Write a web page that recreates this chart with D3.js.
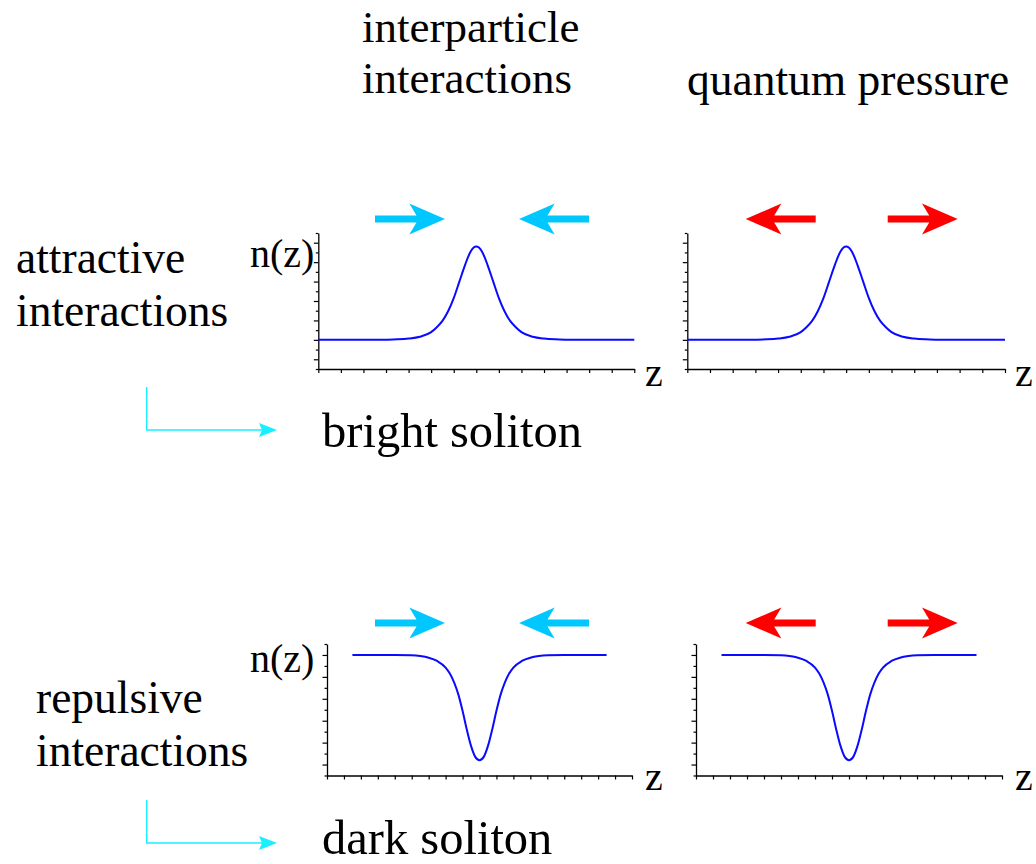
<!DOCTYPE html>
<html>
<head>
<meta charset="utf-8">
<script src="https://cdn.jsdelivr.net/npm/d3@7"></script>
<style>
  body { margin: 0; background: #fff; }
  svg { display: block; }
  text { font-family: "Liberation Serif", "Times New Roman", serif; fill: #000; }
</style>
</head>
<body>
<div id="chart"></div>
<script>
// density profiles
const brightZ = [-7, -5, -4, -3.5, -3, -2.5, -2, -1.75, -1.5, -1.25, -1, -0.75, -0.5, -0.25, 0,
  0.25, 0.5, 0.75, 1, 1.25, 1.5, 1.75, 2, 2.5, 3, 3.5, 4, 5, 7];
const brightN = [3, 3, 3.02, 3.05, 3.13, 3.32, 3.8, 4.3, 4.95, 5.95, 7.3, 9.0, 10.7, 12.1, 12.6,
  12.1, 10.7, 9.0, 7.3, 5.95, 4.95, 4.3, 3.8, 3.32, 3.13, 3.05, 3.02, 3, 3];

const darkZ = [-7.5, -5, -4, -3.5, -3, -2.5, -2, -1.75, -1.5, -1.25, -1, -0.75, -0.5, -0.25, 0,
  0.25, 0.5, 0.75, 1, 1.25, 1.5, 1.75, 2, 2.5, 3, 3.5, 4, 5, 7.5];
const darkN = [11, 11, 10.97, 10.9, 10.75, 10.45, 9.85, 9.3, 8.5, 7.4, 5.9, 4.2, 2.7, 1.7, 1.4,
  1.7, 2.7, 4.2, 5.9, 7.4, 8.5, 9.3, 9.85, 10.45, 10.75, 10.9, 10.97, 11, 11];

const columnTitles = [["interparticle", "interactions"], ["quantum pressure"]];
const rowLabels = [["attractive", "interactions"], ["repulsive", "interactions"]];
const resultLabels = ["bright soliton", "dark soliton"];
const yAxisLabel = "n(z)";
const xAxisLabel = "z";

const width = 1036;
const height = 864;

const svg = d3.select("#chart").append("svg")
  .attr("width", width)
  .attr("height", height)
  .attr("viewBox", `0 0 ${width} ${height}`);

const rows = [
  { z: brightZ, n: brightN, xDomain: [-7, 7], yMax: 14, top: 233, bottom: 369,
    arrowY: 219, labelY: 273, labelX: 16, resultY: 447, elbowTop: 387, nLabelY: 267, zLabelY: 386 },
  { z: darkZ, n: darkN, xDomain: [-9, 9], yMax: 12, top: 644, bottom: 775.5,
    arrowY: 623, labelY: 713, labelX: 36, resultY: 854, elbowTop: 800, nLabelY: 672, zLabelY: 790 }
];
const columns = [
  { left: [318.3, 327], right: [634.3, 632], arrowMid: 482, inward: true, color: "#00c8ff", zLabelX: 645 },
  { left: [687.3, 696], right: [1005, 1002], arrowMid: 851.7, inward: false, color: "#ff0000", zLabelX: 1015 }
];

// column titles
svg.append("text").attr("x", 362).attr("y", 42).style("font-size", "45px").text(columnTitles[0][0]);
svg.append("text").attr("x", 362).attr("y", 93).style("font-size", "45px").text(columnTitles[0][1]);
svg.append("text").attr("x", 687).attr("y", 95).style("font-size", "45.5px").text(columnTitles[1][0]);

// block arrow, tip at x=0, pointing right
const arrowShape = "M0,0 L-35.7,-15.5 L-28.5,-3.4 L-70,-3.4 L-70,3.4 L-28.5,3.4 L-35.7,15.5 Z";

rows.forEach((row, ri) => {
  columns.forEach((col, ci) => {
    const x0 = col.left[ri];
    const x1 = col.right[ri];
    const x = d3.scaleLinear().domain(row.xDomain).range([x0, x1]);
    const y = d3.scaleLinear().domain([0, row.yMax]).range([row.bottom, row.top]);

    const g = svg.append("g");

    // x axis
    const xa = g.append("g")
      .attr("transform", `translate(0,${row.bottom})`)
      .call(d3.axisBottom(x)
        .tickValues(d3.range(row.xDomain[0], row.xDomain[1] + 1))
        .tickSize(4)
        .tickSizeOuter(0)
        .tickFormat(""));
    xa.select(".domain").attr("stroke", "#000").attr("stroke-width", 1.3);
    xa.selectAll(".tick line").attr("stroke", "#000").attr("stroke-width", 1.2);

    // y axis
    const ya = g.append("g")
      .attr("transform", `translate(${x0},0)`)
      .call(d3.axisLeft(y)
        .tickValues(d3.range(0, row.yMax + 1))
        .tickSizeOuter(0)
        .tickFormat(""));
    ya.select(".domain").attr("stroke", "#000").attr("stroke-width", 1.3);
    ya.selectAll(".tick line")
      .attr("stroke", "#000")
      .attr("stroke-width", 1.2)
      .attr("x2", (d) => (d % 2 === 1 ? -4.5 : -2.5));

    // density curve
    const pts = row.z.map((z, i) => [z, row.n[i]]);
    g.append("path")
      .datum(pts)
      .attr("fill", "none")
      .attr("stroke", "#0a0aff")
      .attr("stroke-width", 2)
      .attr("d", d3.line()
        .x((d) => x(d[0]))
        .y((d) => y(d[1]))
        .curve(d3.curveMonotoneX));

    // axis labels
    if (ci === 0) {
      g.append("text").attr("x", 250).attr("y", row.nLabelY)
        .style("font-size", "40px").text(yAxisLabel);
    }
    g.append("text").attr("x", col.zLabelX).attr("y", row.zLabelY)
      .style("font-size", "40px").text(xAxisLabel);

    // force arrows
    const off = col.inward ? 37 : 106;
    const leftTip = col.arrowMid - off;
    const rightTip = col.arrowMid + off;
    if (col.inward) {
      g.append("path").attr("d", arrowShape).attr("fill", col.color)
        .attr("transform", `translate(${leftTip},${row.arrowY})`);
      g.append("path").attr("d", arrowShape).attr("fill", col.color)
        .attr("transform", `translate(${rightTip},${row.arrowY}) scale(-1,1)`);
    } else {
      g.append("path").attr("d", arrowShape).attr("fill", col.color)
        .attr("transform", `translate(${leftTip},${row.arrowY}) scale(-1,1)`);
      g.append("path").attr("d", arrowShape).attr("fill", col.color)
        .attr("transform", `translate(${rightTip},${row.arrowY})`);
    }
  });

  // row labels
  svg.append("text").attr("x", row.labelX).attr("y", row.labelY)
    .style("font-size", "45.5px").text(rowLabels[ri][0]);
  svg.append("text").attr("x", row.labelX).attr("y", row.labelY + 53)
    .style("font-size", "45.5px").text(rowLabels[ri][1]);

  // elbow arrow to result
  const ex = 146.7;
  const ey = row.elbowTop + 43;
  svg.append("path")
    .attr("d", `M${ex},${row.elbowTop} L${ex},${ey} L262,${ey}`)
    .attr("fill", "none")
    .attr("stroke", "#18f0ff")
    .attr("stroke-width", 1.4);
  svg.append("path")
    .attr("d", `M277,${ey} L259,${ey - 7} L262,${ey} L259,${ey + 7} Z`)
    .attr("fill", "#18f0ff");

  svg.append("text").attr("x", 322).attr("y", row.resultY)
    .style("font-size", "48.5px").text(resultLabels[ri]);
});
</script>
</body>
</html>
